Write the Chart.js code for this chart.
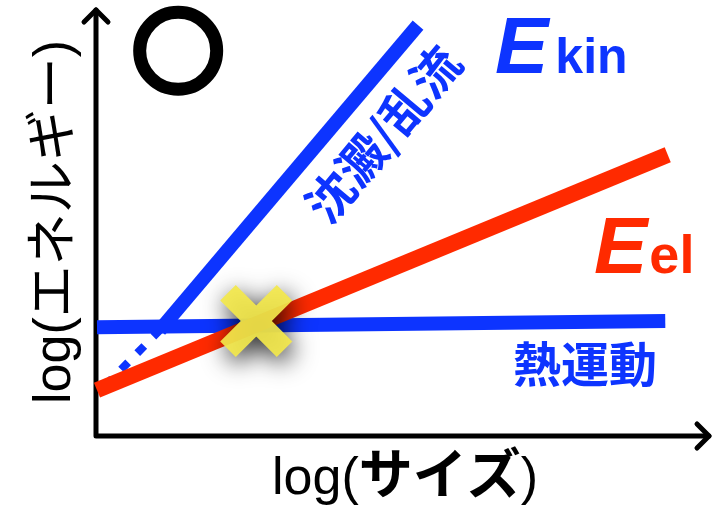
<!DOCTYPE html>
<html>
<head>
<meta charset="utf-8">
<script src="https://cdn.jsdelivr.net/npm/chart.js@4.4.1/dist/chart.umd.min.js"></script>
<style>
  html, body { margin: 0; padding: 0; background: #fff; overflow: hidden; }
  #wrap { width: 715px; height: 510px; }
</style>
</head>
<body>
<div id="wrap"><canvas id="chart"></canvas></div>
<script>
  // Schematic values in "log" units (x: log size, y: log energy)
  const thermalX = [0, 9.24];
  const thermalY = [1.78, 1.88];
  const settleX = [1.02, 5.22];
  const settleY = [1.73, 6.72];
  const settleDashX = [0.13, 1.02];
  const settleDashY = [0.82, 1.73];
  const elasticX = [0, 9.28];
  const elasticY = [0.75, 4.6];
  const crossX = [2.59];
  const crossY = [1.88];

  const BLUE = '#0d34ff';
  const RED = '#ff2a00';
  const YELLOW = 'rgba(243, 232, 75, 0.92)';
  const LATIN = '"Liberation Sans", sans-serif';
  const CJK = '"Liberation Sans", "Noto Sans CJK JP", sans-serif';

  function pts(xs, ys) {
    return xs.map(function (x, i) { return { x: x, y: ys[i] }; });
  }

  // draw a row of [text, font, gapAfter] pieces starting at x
  function pieces(ctx, parts, x, y) {
    parts.forEach(function (p) {
      ctx.font = p[1];
      ctx.fillText(p[0], x, y);
      x += ctx.measureText(p[0]).width + (p[2] || 0);
    });
  }

  // Arrows, circle mark and labels
  const decorations = {
    id: 'decorations',
    beforeDatasetsDraw: function (chart) {
      const ctx = chart.ctx;
      const a = chart.chartArea;
      ctx.save();
      ctx.strokeStyle = '#000';
      ctx.lineWidth = 5;
      ctx.lineCap = 'round';
      ctx.lineJoin = 'round';
      ctx.beginPath();
      ctx.moveTo(a.left - 1, a.top + 2);
      ctx.lineTo(a.left - 1, a.bottom);
      ctx.lineTo(a.right - 3, a.bottom);
      ctx.stroke();
      // arrow heads
      ctx.beginPath();
      ctx.moveTo(a.left - 13, a.top + 14);
      ctx.lineTo(a.left - 1, a.top + 2);
      ctx.lineTo(a.left + 11, a.top + 14);
      ctx.moveTo(a.right - 15, a.bottom - 12);
      ctx.lineTo(a.right - 3, a.bottom);
      ctx.lineTo(a.right - 15, a.bottom + 12);
      ctx.stroke();
      ctx.restore();
    },
    afterDatasetsDraw: function (chart) {
      const ctx = chart.ctx;
      const xs = chart.scales.x, ys = chart.scales.y;
      ctx.save();
      // big circle mark
      ctx.strokeStyle = '#000';
      ctx.lineWidth = 13;
      ctx.beginPath();
      ctx.arc(xs.getPixelForValue(1.32), ys.getPixelForValue(6.3), 38.5, 0, Math.PI * 2);
      ctx.stroke();

      ctx.textBaseline = 'alphabetic';
      ctx.textAlign = 'left';
      // E_kin
      ctx.fillStyle = BLUE;
      pieces(ctx, [['E', 'italic bold 80px ' + LATIN, 7], ['kin', 'bold 50px ' + LATIN]], 495, 73);
      // E_el
      ctx.fillStyle = RED;
      pieces(ctx, [['E', 'italic bold 80px ' + LATIN, 2], ['el', 'bold 54px ' + LATIN]], 594, 273);

      // thermal motion label
      ctx.fillStyle = BLUE;
      ctx.textAlign = 'center';
      ctx.textBaseline = 'middle';
      ctx.font = 'bold 48px "Noto Sans CJK JP", sans-serif';
      ctx.fillText('熱運動', 585, 364);

      // settling / turbulence label along the steep line
      ctx.save();
      ctx.translate(383, 134);
      ctx.rotate(-50 * Math.PI / 180);
      ctx.font = 'bold 48px "Noto Sans CJK JP", sans-serif';
      ctx.fillText('沈澱/乱流', 0, 0);
      ctx.restore();

      // axis titles
      ctx.fillStyle = '#000';
      ctx.textAlign = 'left';
      ctx.textBaseline = 'alphabetic';
      pieces(ctx, [['log(', '52px ' + LATIN], ['サイズ', 'bold 54px ' + CJK], [')', '52px ' + LATIN]], 272, 494);
      ctx.save();
      ctx.translate(70, 404);
      ctx.rotate(-Math.PI / 2);
      pieces(ctx, [['log(', '52px ' + LATIN], ['エネルギー', '52px ' + CJK], [')', '52px ' + LATIN]], 0, 0);
      ctx.restore();
      ctx.restore();
    }
  };

  // soft shadow behind the yellow cross
  const crossShadow = {
    id: 'crossShadow',
    beforeDatasetDraw: function (chart, args) {
      if (args.index !== 4) return;
      const ctx = chart.ctx;
      ctx.save();
      ctx.shadowColor = 'rgba(0,0,0,0.9)';
      ctx.shadowBlur = 24;
      ctx.shadowOffsetX = 3;
      ctx.shadowOffsetY = 7;
    },
    afterDatasetDraw: function (chart, args) {
      if (args.index !== 4) return;
      chart.ctx.restore();
    }
  };

  new Chart(document.getElementById('chart'), {
    type: 'line',
    data: {
      datasets: [
        { data: pts(thermalX, thermalY), borderColor: BLUE, borderWidth: 14, order: 3 },
        { data: pts(settleX, settleY), borderColor: BLUE, borderWidth: 14, order: 3 },
        { data: pts(settleDashX, settleDashY), borderColor: BLUE, borderWidth: 8, borderDash: [10, 13], order: 3 },
        { data: pts(elasticX, elasticY), borderColor: RED, borderWidth: 16, order: 2 },
        {
          data: pts(crossX, crossY), showLine: false, order: 1,
          pointStyle: 'crossRot', pointRadius: 40, pointBorderWidth: 22,
          pointBorderColor: YELLOW, pointBackgroundColor: YELLOW
        }
      ]
    },
    options: {
      responsive: true,
      maintainAspectRatio: false,
      animation: false,
      events: [],
      layout: { autoPadding: false, padding: { left: 97, right: 3, top: 8, bottom: 74 } },
      elements: {
        line: { borderCapStyle: 'butt', tension: 0, fill: false },
        point: { radius: 0 }
      },
      datasets: { line: { clip: false } },
      scales: {
        x: { type: 'linear', min: 0, max: 10, display: false },
        y: { type: 'linear', min: 0, max: 7, display: false }
      },
      plugins: { legend: { display: false }, tooltip: { enabled: false } }
    },
    plugins: [decorations, crossShadow]
  });
</script>
</body>
</html>
